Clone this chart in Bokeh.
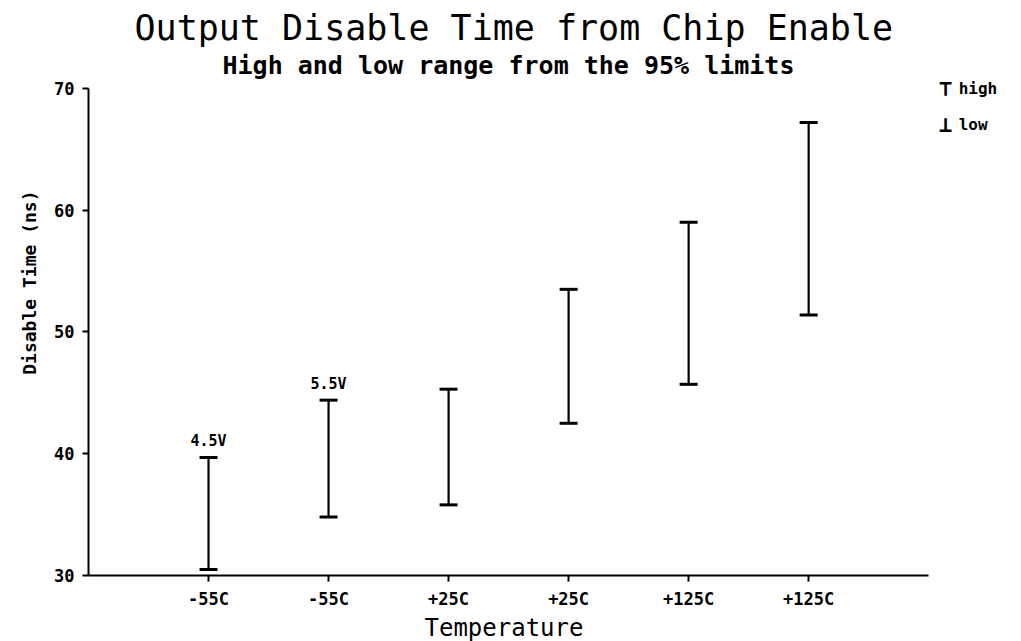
from bokeh.plotting import figure
from bokeh.models import Range1d, FixedTicker, Title, Label, ColumnDataSource
from bokeh.embed import file_html
from bokeh.resources import INLINE
from bokeh.core.properties import value

# ---- data ----
categories = ["-55C", "-55C", "+25C", "+25C", "+125C", "+125C"]
high = [39.7, 44.4, 45.3, 53.5, 59.0, 67.2]
low = [30.5, 34.8, 35.8, 42.5, 45.7, 51.4]
voltage = ["4.5V", "5.5V", "", "", "", ""]
y_ticks = [30, 40, 50, 60, 70]
legend_symbols = ["\u22a4", "\u22a5"]
legend_names = ["high", "low"]

FONT = "DejaVu Sans Mono"
pos = list(range(1, len(categories) + 1))
cap = 0.075

src = ColumnDataSource(dict(
    x=pos, high=high, low=low, lab=voltage,
    xl=[p - cap for p in pos], xr=[p + cap for p in pos],
))

p = figure(width=1013, height=641, output_backend="svg", toolbar_location=None,
           x_range=Range1d(0, 7.64), y_range=Range1d(30, 70.65),
           min_border_left=88, min_border_right=8, min_border_top=80, min_border_bottom=66,
           title=None)
p.outline_line_color = None
p.grid.visible = False
p.background_fill_color = "white"
p.border_fill_color = "white"

# error bars
p.segment(x0="x", y0="low", x1="x", y1="high", source=src, line_color="black", line_width=2.2)
p.segment(x0="xl", y0="high", x1="xr", y1="high", source=src, line_color="black", line_width=3)
p.segment(x0="xl", y0="low", x1="xr", y1="low", source=src, line_color="black", line_width=3)
p.text(x="x", y="high", text="lab", source=src, text_align="center", text_baseline="bottom",
       y_offset=-7, text_font=value(FONT), text_font_size="15px", text_font_style="bold",
       text_color="black")

# axes
xa = p.xaxis[0]
xa.ticker = FixedTicker(ticks=pos)
xa.major_label_overrides = {pp: c for pp, c in zip(pos, categories)}
xa.bounds = (0, 7)
ya = p.yaxis[0]
ya.ticker = FixedTicker(ticks=y_ticks)
ya.bounds = (30, 70)
for ax in (xa, ya):
    ax.axis_line_width = 2
    ax.axis_line_color = "black"
    ax.major_tick_line_color = "black"
    ax.major_tick_line_width = 2
    ax.major_tick_out = 6
    ax.major_tick_in = 0
    ax.minor_tick_line_color = None
    ax.major_label_text_font = FONT
    ax.major_label_text_font_style = "bold"
    ax.major_label_text_font_size = "17px"
    ax.major_label_text_color = "black"
xa.major_label_standoff = 7
ya.major_label_standoff = 8

# axis titles (placed as side titles so they sit where the reference has them)
p.add_layout(Title(text="Disable Time (ns)", align="right", offset=110,
                   text_font=FONT, text_font_size="18px", text_font_style="bold",
                   text_color="black", standoff=23), "left")
p.add_layout(Title(text="Temperature", align="left", offset=336,
                   text_font=FONT, text_font_size="24px", text_font_style="normal",
                   text_color="black", standoff=0, text_line_height=1.0), "below")

# titles
p.add_layout(Title(text="High and low range from the 95% limits", align="left", offset=134,
                   text_font=FONT, text_font_size="25px", text_font_style="bold",
                   text_color="black", standoff=2, text_line_height=0.75), "above")
p.add_layout(Title(text="Output Disable Time from Chip Enable", align="left", offset=46,
                   text_font=FONT, text_font_size="35px", text_font_style="normal",
                   text_color="black", standoff=0), "above")

# legend (drawn as labels in the right part of the frame)
legend_y = [70.0, 67.0]
for sym, name, yy in zip(legend_symbols, legend_names, legend_y):
    p.add_layout(Label(x=7.14, y=yy, text=sym, text_align="center", text_baseline="middle",
                       text_font=FONT, text_font_size="22px", text_font_style="bold",
                       text_color="black"))
    p.add_layout(Label(x=7.25, y=yy, text=name, text_align="left", text_baseline="middle",
                       text_font=FONT, text_font_size="16px", text_font_style="bold",
                       text_color="black"))

open("out.html", "w").write(file_html(p, INLINE))
